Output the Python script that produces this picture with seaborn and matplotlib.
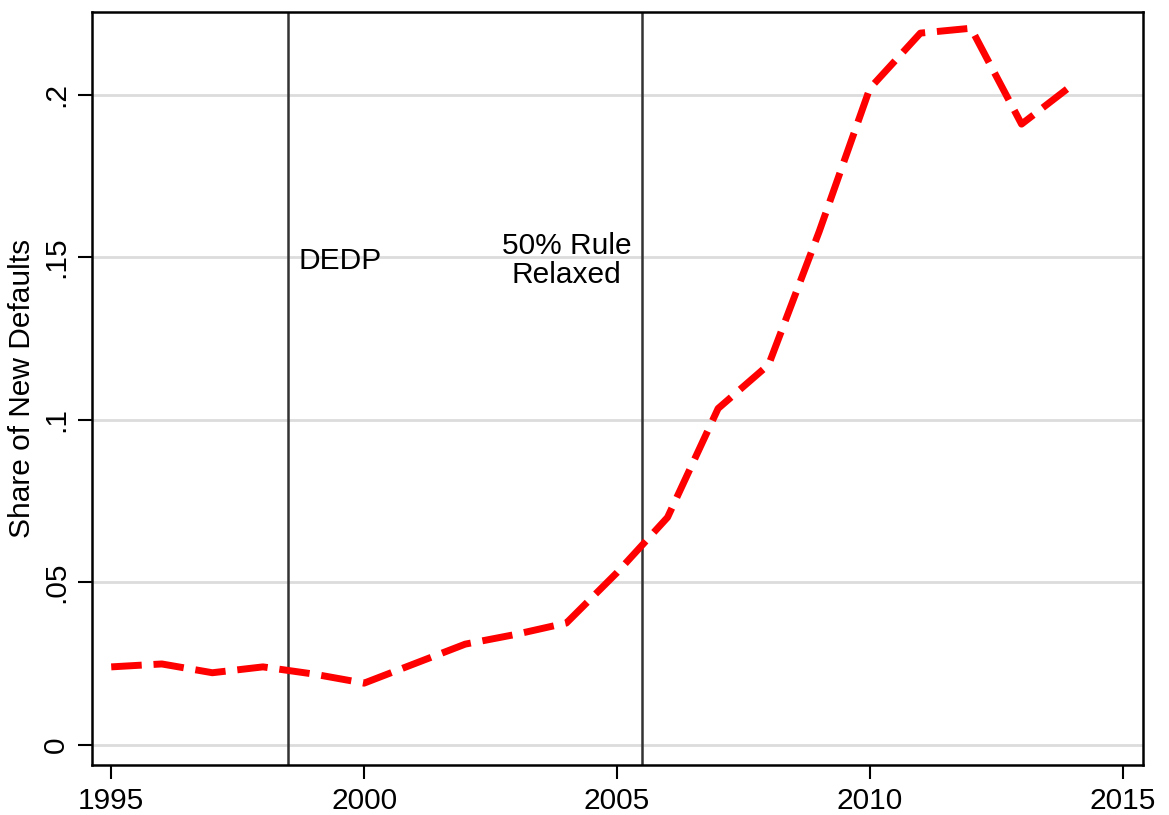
import pandas as pd
import numpy as np
import seaborn as sns
import matplotlib.pyplot as plt

years = list(range(1995, 2015))
share = [0.024, 0.0249, 0.0222, 0.024, 0.0218, 0.019, 0.025, 0.031, 0.034, 0.0375,
         0.053, 0.070, 0.1035, 0.117, 0.158, 0.202, 0.219, 0.2205, 0.191, 0.203]
event_years = [1998.5, 2005.5]
event_labels = ["DEDP", "50% Rule\nRelaxed"]
yticks = [0, 0.05, 0.1, 0.15, 0.2]
ytick_labels = ["0", ".05", ".1", ".15", ".2"]
xticks = [1995, 2000, 2005, 2010, 2015]

df = pd.DataFrame({"year": years, "share": share})

sns.set_style("white")
plt.rcParams['font.family'] = ['Liberation Sans', 'DejaVu Sans']
plt.rcParams['text.color'] = 'black'
plt.rcParams['axes.labelcolor'] = 'black'
plt.rcParams['xtick.color'] = 'black'
plt.rcParams['ytick.color'] = 'black'

fig = plt.figure(figsize=(11.69, 8.15), dpi=100)
ax = fig.add_axes([0.0787, 0.0613, 0.899, 0.924])

# horizontal grid
for yv in yticks:
    ax.axhline(yv, color='#dcdcdc', lw=2, zorder=0)

# policy change lines
for xv in event_years:
    ax.axvline(xv, color='#333333', lw=1.8, zorder=1)

sns.lineplot(data=df, x='year', y='share', ax=ax, color='#ff0000', lw=5,
             zorder=3)
ax.lines[-1].set_dashes((4.4, 1.7))

ax.text(1998.7, 0.149, event_labels[0], fontsize=21.5, ha='left', va='center')
ax.text(2004.0, 0.149, event_labels[1], fontsize=21.5, ha='center', va='center',
        linespacing=1.05)

ax.set_xlim(1994.62, 2015.4)
ax.set_ylim(-0.0062, 0.2255)
ax.set_xticks(xticks)
ax.set_xticklabels([str(x) for x in xticks], fontsize=21.5)
ax.set_yticks(yticks)
ax.set_yticklabels(ytick_labels, fontsize=21.5, rotation=90, va='center')
ax.set_xlabel('')
ax.set_ylabel('Share of New Defaults', fontsize=21.5, labelpad=4)

ax.tick_params(axis='both', direction='out', length=10, width=1.5,
               bottom=True, left=True, pad=6)
for s in ax.spines.values():
    s.set_color('black')
    s.set_linewidth(1.8)

fig.savefig('out.png', dpi=100)
